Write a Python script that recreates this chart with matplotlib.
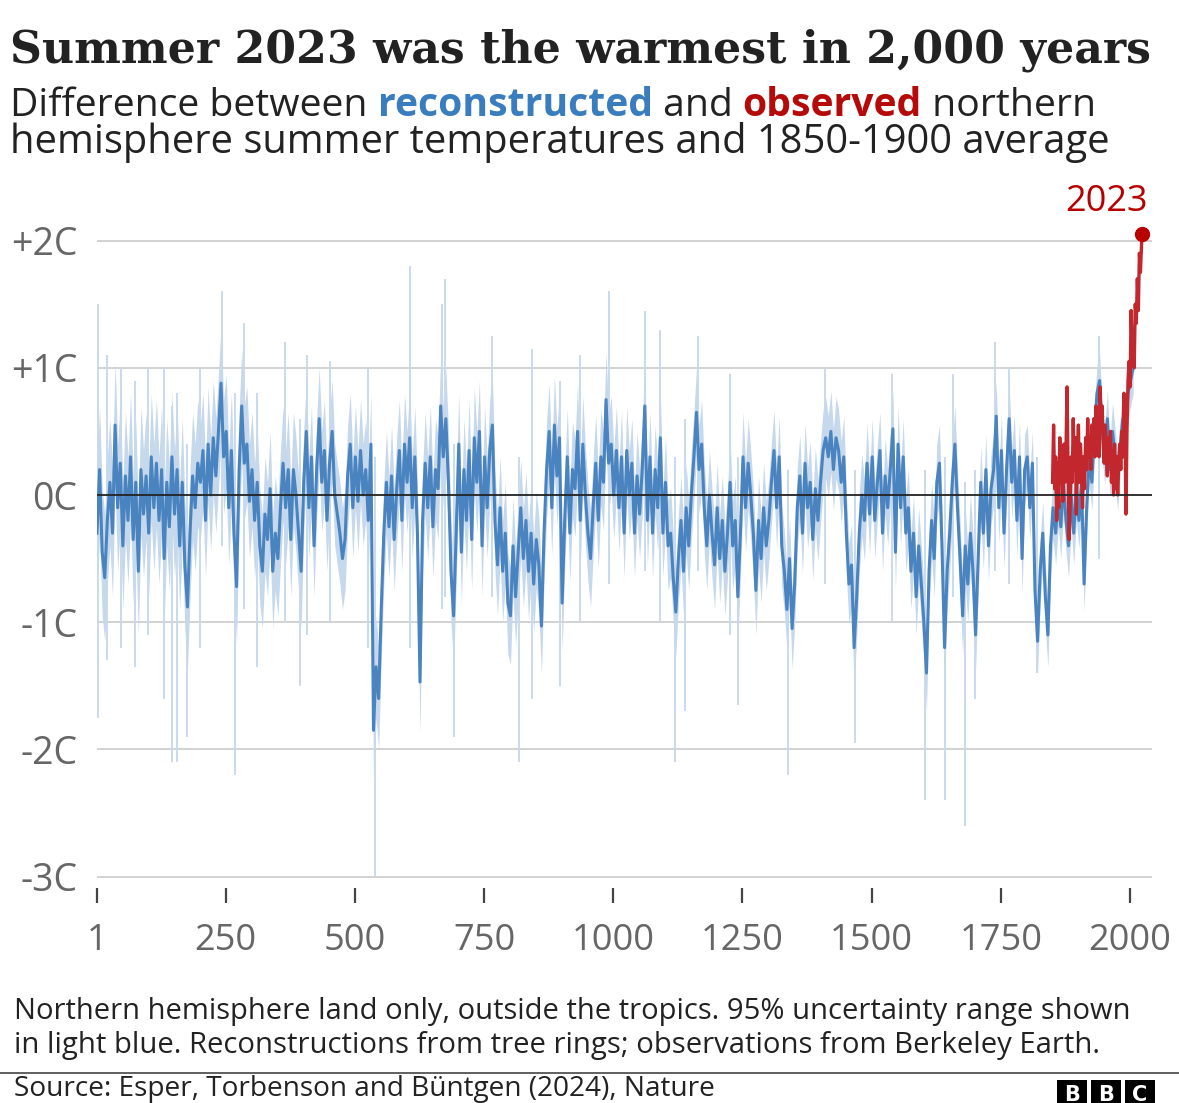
import numpy as np
import matplotlib
matplotlib.use("Agg")
import matplotlib.pyplot as plt
from matplotlib.patches import Rectangle

# Reconstructed summer temperature anomaly (C), read every 5 years from year 1
recon_temp = [
    -0.3, 0.2, -0.45, -0.65, -0.2, 0.1, -0.3, 0.55, -0.1, 0.25, -0.4, 0.15, -0.2, 0.3, -0.35, 0.1, -0.6, 0.2, -0.15, 0.15,
    -0.3, 0.3, -0.1, 0.25, -0.2, 0.2, -0.5, 0.1, -0.25, 0.3, -0.15, 0.2, -0.4, 0.1, -0.55, -0.88, -0.3, 0.15, -0.1, 0.25,
    0.1, 0.35, -0.2, 0.4, 0.0, 0.45, 0.15, 0.5, 0.88, 0.3, 0.5, -0.1, 0.35, -0.3, -0.72, 0.2, 0.7, 0.25, 0.4, -0.05,
    0.2, -0.2, 0.1, -0.4, -0.6, -0.15, -0.35, 0.05, -0.6, -0.3, -0.5, -0.1, 0.25, -0.1, 0.2, -0.35, 0.2, 0.0, -0.3, -0.6,
    0.1, 0.5, -0.1, 0.3, -0.4, 0.2, 0.6, 0.1, 0.35, -0.2, 0.25, 0.5, 0.0, -0.15, -0.3, -0.5, -0.35, 0.15, 0.4, -0.1,
    0.3, -0.05, 0.35, 0.0, 0.2, -0.2, 0.4, -1.85, -1.35, -1.6, -0.9, -0.3, 0.1, -0.25, 0.15, -0.35, 0.05, 0.35, -0.2, 0.4,
    0.1, 0.45, -0.1, 0.3, -0.3, -1.47, -0.2, 0.25, -0.1, 0.3, -0.25, 0.2, 0.05, 0.7, 0.3, 0.6, 0.1, -0.6, -0.95, -0.3,
    0.4, -0.45, 0.2, -0.2, 0.35, -0.35, 0.45, 0.1, 0.5, -0.4, 0.3, -0.1, 0.35, 0.55, -0.2, -0.55, -0.1, -0.6, -0.3, -0.85,
    -0.95, -0.4, -0.8, -0.45, -0.1, -0.5, -0.2, -0.6, -0.3, -0.7, -0.35, -0.55, -1.03, -0.3, 0.2, 0.5, -0.1, 0.55, 0.15, 0.45,
    -0.85, -0.2, 0.3, -0.3, 0.2, 0.05, 0.5, -0.2, 0.4, 0.0, -0.3, -0.5, -0.1, 0.25, -0.2, 0.3, 0.1, 0.75, 0.25, 0.4,
    0.0, 0.35, -0.1, 0.3, -0.3, 0.35, 0.0, 0.25, -0.3, 0.15, -0.15, 0.2, 0.7, -0.2, 0.3, -0.3, 0.2, -0.1, 0.45, -0.3,
    0.1, -0.4, -0.3, -0.65, -0.92, -0.5, -0.2, -0.6, -0.1, -0.4, 0.0, 0.3, 0.65, 0.2, 0.4, -0.1, -0.4, 0.0, -0.3, -0.55,
    -0.1, -0.5, -0.2, -0.6, -0.3, 0.1, -0.4, -0.2, -0.8, -0.3, 0.3, -0.1, 0.25, 0.0, -0.3, -0.75, -0.2, -0.5, -0.1, -0.4,
    -0.2, 0.1, 0.35, -0.1, 0.3, -0.4, -0.6, -0.9, -0.5, -1.05, -0.7, -0.1, 0.15, -0.3, 0.25, -0.1, 0.1, -0.35, 0.05, -0.2,
    0.1, 0.35, 0.45, 0.3, 0.5, 0.2, 0.45, 0.35, 0.1, 0.3, -0.3, -0.7, -0.55, -1.2, -0.8, -0.3, 0.0, -0.2, 0.25, -0.15,
    0.3, -0.2, 0.1, 0.35, -0.3, 0.15, -0.1, 0.2, 0.52, -0.45, 0.4, -0.1, 0.3, -0.3, -0.1, -0.6, -0.3, -0.8, -0.4, -0.7,
    -1.0, -1.4, -0.6, -0.2, -0.5, 0.1, 0.25, -0.4, -1.2, -0.6, -0.3, 0.1, 0.4, -0.1, -0.5, -0.95, -0.4, -0.7, -0.3, -0.6,
    -1.1, -0.5, 0.1, -0.3, 0.2, -0.4, 0.05, 0.2, 0.62, -0.1, 0.35, -0.3, 0.2, 0.6, 0.1, 0.35, -0.2, 0.3, -0.5, 0.2,
    0.3, -0.1, 0.25, -0.75, -1.15, -0.6, -0.3, -0.8, -1.1, -0.4, -0.1, -0.3, 0.0, -0.25, 0.1, -0.2, -0.4, 0.0, -0.3, 0.05,
    -0.2, 0.1, -0.7, -0.1, 0.3, 0.1, 0.5, 0.8, 0.9, 0.5, 0.3, 0.6, 0.2, 0.5, 0.3, 0.1, 0.4, 0.6, 0.5, 0.8,
    0.9, 1.0,
]
recon_years = np.arange(1, 2007, 5)

# half-width of the 95% range, one value per century (1-100, 101-200, ...)
band_halfwidth = [0.5, 0.5, 0.45, 0.45, 0.4, 0.4, 0.4, 0.4, 0.38, 0.38, 0.35,
                  0.35, 0.35, 0.32, 0.32, 0.3, 0.3, 0.28, 0.25, 0.22, 0.2]

# single-year extremes of the uncertainty range
spike_years = [3, 20, 48, 75, 100, 130, 146, 156, 175, 200, 243, 268, 285, 310, 365, 394, 407,
               452, 526, 539, 607, 668, 675, 691, 765, 817, 842, 897, 936, 991, 1061, 1090, 1120,
               1138, 1164, 1226, 1242, 1338, 1410, 1468, 1539, 1603, 1642, 1658, 1680, 1700, 1739,
               1765, 1820, 1939]
spike_low = [-1.75, -1.3, -1.2, -1.35, -1.1, -1.6, -2.1, -2.1, -1.9, -1.2, -0.4, -2.2, -0.9, -1.35,
             -1.0, -1.5, -1.1, -1.0, -1.2, -3.0, -1.2, -0.9, -0.8, -1.9, -0.8, -2.1, -1.6, -1.5, -1.0,
             -0.7, -0.6, -1.0, -2.1, -1.7, -0.6, -1.1, -1.65, -2.2, -0.7, -1.95, -1.0, -2.4, -2.4, -0.8,
             -2.6, -1.6, -0.6, -0.7, -1.4, -0.5]
spike_high = [1.5, 1.1, 1.0, 0.9, 1.0, 1.0, 0.7, 0.8, 0.4, 1.0, 1.6, 0.8, 1.35, 0.8, 1.2, 0.6, 1.1,
              1.05, 1.0, 0.3, 1.8, 1.5, 1.7, 0.4, 1.25, 0.3, 1.15, 0.9, 1.1, 1.6, 1.45, 1.3, 0.3, 0.6,
              1.25, 0.95, 0.3, 0.2, 1.0, 0.2, 0.95, 0.2, 0.3, 0.95, 0.1, 0.2, 1.2, 1.0, 0.3, 1.25]

# Observed (Berkeley Earth), every 2 years from 1850, then 2023
obs_temp = [
    0.1, 0.55, 0.05, 0.3, -0.2, 0.25, -0.1, 0.45, 0.1, 0.3,
    -0.05, 0.4, 0.1, 0.35, 0.85, 0.2, -0.35, -0.1, 0.3, 0.1,
    0.6, 0.2, 0.45, -0.15, 0.3, 0.55, 0.1, 0.4, 0.2, -0.1,
    0.3, 0.05, 0.45, 0.2, 0.6, 0.3, 0.45, 0.2, 0.55, 0.35,
    0.6, 0.3, 0.7, 0.45, 0.6, 0.3, 0.85, 0.5, 0.7, 0.4,
    0.25, 0.55, 0.3, 0.15, 0.45, 0.3, 0.5, 0.1, 0.35, 0.0,
    0.4, 0.05, 0.3, 0.0, 0.25, 0.4, 0.2, 0.5, 0.3, 0.8,
    0.6, -0.15, 0.5, 0.9, 1.05, 0.85, 1.45, 1.1, 1.25, 1.0,
    1.5, 1.35, 1.7, 1.45, 1.9, 1.75, 1.95, 2.05,
]
obs_years = list(range(1850, 2023, 2)) + [2023]

x_ticks = [1, 250, 500, 750, 1000, 1250, 1500, 1750, 2000]
y_ticks = [2, 1, 0, -1, -2, -3]
y_labels = ["+2C", "+1C", "0C", "-1C", "-2C", "-3C"]

BLUE = "#4a84c0"
BAND = "#c5d8ec"
RED = "#c1272d"
DARK_RED = "#b80000"
INK = "#222222"
SANS = "Open Sans"

W, H = 1179, 1103
fig = plt.figure(figsize=(W / 100, H / 100), dpi=100)
renderer = fig.canvas.get_renderer()

# axes placed in pixel terms: year 1 at x=97, +2C at y=241, 0C at y=495
ax = fig.add_axes([97 / W, 1 - 880 / H, (1152 - 97) / W, (880 - 180) / H])
ax.set_xlim(1, 1 + (1152 - 97) / 0.5168)
ax.set_ylim((495 - 880) / 127.2, (495 - 180) / 127.2)

recon = np.array(recon_temp)
width = np.array([band_halfwidth[(y - 1) // 100] for y in recon_years])
ax.fill_between(recon_years, recon - width, recon + width, color=BAND, lw=0, zorder=1)
ax.vlines(spike_years, spike_low, spike_high, color=BAND, lw=1.3, zorder=1)

for v in y_ticks:
    if v != 0:
        ax.axhline(v, color="#cfcfcf", lw=1.3, zorder=0)
ax.axhline(0, color=INK, lw=1.3, zorder=5)

ax.plot(recon_years, recon, color=BLUE, lw=2.2, zorder=3)
ax.plot(obs_years, obs_temp, color=RED, lw=2.4, zorder=4)
ax.plot(obs_years[-1], obs_temp[-1], "o", color=DARK_RED, ms=10, zorder=6, clip_on=False)
ax.annotate("2023", xy=(obs_years[-1], obs_temp[-1]), xytext=(6, 14), textcoords="offset pixels",
            ha="right", va="bottom", fontsize=26, color=DARK_RED, family=SANS)

for s in ax.spines.values():
    s.set_visible(False)
ax.spines["bottom"].set_position(("outward", 6))
ax.set_xticks(x_ticks)
ax.set_xticklabels([str(t) for t in x_ticks])
ax.set_yticks(y_ticks)
ax.set_yticklabels(y_labels)
ax.tick_params(axis="x", length=11, width=1.6, color="#444444", pad=14, labelsize=26, labelcolor="#666666")
ax.tick_params(axis="y", length=0, pad=14, labelsize=27, labelcolor="#666666")
for lab in ax.get_xticklabels() + ax.get_yticklabels():
    lab.set_family(SANS)


def text_width(s, size, family, weight):
    t = fig.text(0, 0, s, fontsize=size, family=family, fontweight=weight)
    w = t.get_window_extent(renderer).width
    t.remove()
    return w


def run_width(s, size, family, weight):
    return text_width("|" + s + "|", size, family, weight) - text_width("||", size, family, weight)


def draw_runs(x_px, base_px, runs, target_px, family):
    total = sum(run_width(s, 10, family, wt) for s, c, wt in runs)
    size = 10 * target_px / total
    x = x_px
    for s, c, wt in runs:
        fig.text(x / W, 1 - base_px / H, s, fontsize=size, color=c, fontweight=wt,
                 family=family, ha="left", va="baseline")
        x += run_width(s, size, family, wt)


draw_runs(10, 63, [("Summer 2023 was the warmest in 2,000 years", INK, "bold")], 1145, "DejaVu Serif")
draw_runs(10, 116, [("Difference between ", INK, "normal"), ("reconstructed", "#3a7dbf", "bold"),
                    (" and ", INK, "normal"), ("observed", "#b50a0a", "bold"),
                    (" northern", INK, "normal")], 1087, SANS)
draw_runs(10, 153, [("hemisphere summer temperatures and 1850-1900 average", INK, "normal")], 1102, SANS)

draw_runs(14, 1019, [("Northern hemisphere land only, outside the tropics. 95% uncertainty range shown", INK, "normal")], 1114, SANS)
draw_runs(14, 1053, [("in light blue. Reconstructions from tree rings; observations from Berkeley Earth.", INK, "normal")], 1085, SANS)

fig.add_artist(plt.Line2D([0, 1], [1 - 1073 / H] * 2, color="#444444", lw=1.2, transform=fig.transFigure))
draw_runs(14, 1096, [("Source: Esper, Torbenson and Büntgen (2024), Nature", INK, "normal")], 700, SANS)

for i, letter in enumerate("BBC"):
    x0 = 1057 + i * 34
    fig.add_artist(Rectangle((x0 / W, 1 - 1110 / H), 30 / W, 30 / H, transform=fig.transFigure,
                             facecolor="black", edgecolor="none"))
    fig.text((x0 + 15) / W, 1 - 1095 / H, letter, ha="center", va="center", color="white",
             fontsize=15, fontweight="bold", family="DejaVu Sans")

fig.savefig("out.png", dpi=100)
